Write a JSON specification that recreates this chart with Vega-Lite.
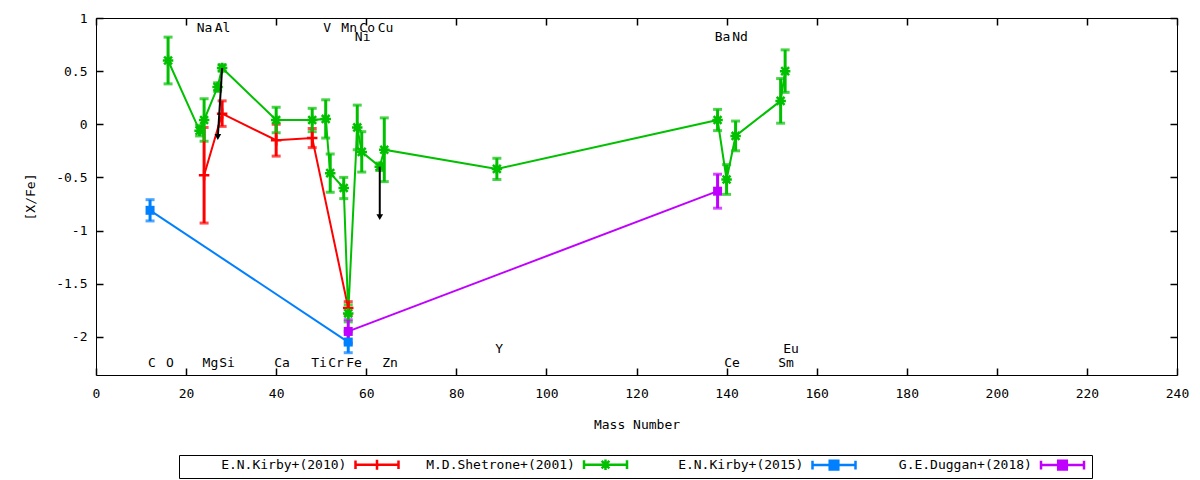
{
  "$schema": "https://vega.github.io/schema/vega-lite/v6.json",
  "width": 1081,
  "height": 357,
  "autosize": {"type": "none"},
  "padding": {"left": 96, "top": 18, "right": 23, "bottom": 105},
  "background": "white",
  "datasets": {
    "abund": [
      {"s": "E.N.Kirby+(2010)", "el": "Mg", "m": 24, "v": -0.48, "e": 0.45},
      {"s": "E.N.Kirby+(2010)", "el": "Si", "m": 28, "v": 0.10, "e": 0.12},
      {"s": "E.N.Kirby+(2010)", "el": "Ca", "m": 40, "v": -0.15, "e": 0.15},
      {"s": "E.N.Kirby+(2010)", "el": "Ti", "m": 48, "v": -0.13, "e": 0.09},
      {"s": "E.N.Kirby+(2010)", "el": "Fe", "m": 56, "v": -1.73, "e": 0.06},
      {"s": "M.D.Shetrone+(2001)", "el": "O", "m": 16, "v": 0.60, "e": 0.22},
      {"s": "M.D.Shetrone+(2001)", "el": "Na", "m": 23, "v": -0.06, "e": 0.05},
      {"s": "M.D.Shetrone+(2001)", "el": "Mg", "m": 24, "v": 0.04, "e": 0.20},
      {"s": "M.D.Shetrone+(2001)", "el": "Al", "m": 27, "v": 0.35, "e": 0.04},
      {"s": "M.D.Shetrone+(2001)", "el": "Si", "m": 28, "v": 0.53, "e": 0.03},
      {"s": "M.D.Shetrone+(2001)", "el": "Ca", "m": 40, "v": 0.04, "e": 0.12},
      {"s": "M.D.Shetrone+(2001)", "el": "Ti", "m": 48, "v": 0.04, "e": 0.11},
      {"s": "M.D.Shetrone+(2001)", "el": "V", "m": 51, "v": 0.05, "e": 0.18},
      {"s": "M.D.Shetrone+(2001)", "el": "Cr", "m": 52, "v": -0.46, "e": 0.18},
      {"s": "M.D.Shetrone+(2001)", "el": "Mn", "m": 55, "v": -0.60, "e": 0.10},
      {"s": "M.D.Shetrone+(2001)", "el": "Fe", "m": 56, "v": -1.78, "e": 0.08},
      {"s": "M.D.Shetrone+(2001)", "el": "Ni", "m": 58, "v": -0.03, "e": 0.21},
      {"s": "M.D.Shetrone+(2001)", "el": "Co", "m": 59, "v": -0.26, "e": 0.19},
      {"s": "M.D.Shetrone+(2001)", "el": "Cu", "m": 63, "v": -0.40, "e": 0.035},
      {"s": "M.D.Shetrone+(2001)", "el": "Zn", "m": 64, "v": -0.24, "e": 0.30},
      {"s": "M.D.Shetrone+(2001)", "el": "Y", "m": 89, "v": -0.42, "e": 0.10},
      {"s": "M.D.Shetrone+(2001)", "el": "Ba", "m": 138, "v": 0.04, "e": 0.10},
      {"s": "M.D.Shetrone+(2001)", "el": "Ce", "m": 140, "v": -0.52, "e": 0.14},
      {"s": "M.D.Shetrone+(2001)", "el": "Nd", "m": 142, "v": -0.11, "e": 0.14},
      {"s": "M.D.Shetrone+(2001)", "el": "Sm", "m": 152, "v": 0.22, "e": 0.21},
      {"s": "M.D.Shetrone+(2001)", "el": "Eu", "m": 153, "v": 0.50, "e": 0.20},
      {"s": "E.N.Kirby+(2015)", "el": "C", "m": 12, "v": -0.81, "e": 0.10},
      {"s": "E.N.Kirby+(2015)", "el": "Fe", "m": 56, "v": -2.05, "e": 0.10},
      {"s": "G.E.Duggan+(2018)", "el": "Fe", "m": 56, "v": -1.95, "e": 0.11},
      {"s": "G.E.Duggan+(2018)", "el": "Ba", "m": 138, "v": -0.63, "e": 0.16}
    ],
    "arrows": [
      {"m0": 28, "v0": 0.53, "m1": 27.05, "v1": -0.12},
      {"m0": 63, "v0": -0.40, "m1": 63, "v1": -0.875}
    ],
    "elements": [
      {"el": "Na", "m": 24.1, "yv": 0.91},
      {"el": "Al", "m": 28.1, "yv": 0.91},
      {"el": "V", "m": 51.3, "yv": 0.91},
      {"el": "Mn", "m": 56.2, "yv": 0.91},
      {"el": "Co", "m": 60.2, "yv": 0.91},
      {"el": "Cu", "m": 64.3, "yv": 0.91},
      {"el": "Ni", "m": 59.2, "yv": 0.82},
      {"el": "Ba", "m": 139.1, "yv": 0.82},
      {"el": "Nd", "m": 143.0, "yv": 0.82},
      {"el": "C", "m": 12.4, "yv": -2.245},
      {"el": "O", "m": 16.4, "yv": -2.245},
      {"el": "Mg", "m": 25.4, "yv": -2.245},
      {"el": "Si", "m": 29.1, "yv": -2.245},
      {"el": "Ca", "m": 41.3, "yv": -2.245},
      {"el": "Ti", "m": 49.5, "yv": -2.245},
      {"el": "Cr", "m": 53.3, "yv": -2.245},
      {"el": "Fe", "m": 57.3, "yv": -2.245},
      {"el": "Zn", "m": 65.3, "yv": -2.245},
      {"el": "Y", "m": 89.5, "yv": -2.115},
      {"el": "Ce", "m": 141.2, "yv": -2.245},
      {"el": "Sm", "m": 153.2, "yv": -2.245},
      {"el": "Eu", "m": 154.3, "yv": -2.115}
    ]
  },
  "layer": [
    {
      "data": {"name": "abund"},
      "mark": {"type": "line", "strokeWidth": 2},
      "encoding": {
        "x": {
          "field": "m", "type": "quantitative",
          "scale": {"domain": [0, 240], "nice": false},
          "axis": {
            "orient": "bottom", "title": "Mass Number",
            "values": [0, 20, 40, 60, 80, 100, 120, 140, 160, 180, 200, 220, 240],
            "labelExpr": "'' + datum.value", "labelFlush": false,
            "domain": false, "offset": -7, "tickSize": 7, "labelPadding": 12, "titlePadding": 18
          }
        },
        "y": {
          "field": "v", "type": "quantitative",
          "scale": {"domain": [-2.36, 1], "nice": false, "zero": false},
          "axis": {
            "orient": "left", "title": "[X/Fe]",
            "values": [-2, -1.5, -1, -0.5, 0, 0.5, 1],
            "labelExpr": "'' + datum.value", "labelFlush": false,
            "domain": false, "offset": -7, "tickSize": 7, "labelPadding": 9, "titlePadding": 18
          }
        },
        "color": {
          "field": "s", "type": "nominal",
          "scale": {
            "domain": ["E.N.Kirby+(2010)", "M.D.Shetrone+(2001)", "E.N.Kirby+(2015)", "G.E.Duggan+(2018)"],
            "range": ["#ff0000", "#00c000", "#0080ff", "#c000ff"]
          },
          "legend": {
            "orient": "none", "legendX": 83, "legendY": 437,
            "direction": "horizontal", "title": null,
            "labelFont": "DejaVu Sans Mono", "labelFontSize": 13, "labelColor": "black",
            "labelLimit": 0, "labelOffset": -201.5, "symbolOffset": 188.5,
            "symbolSize": 100, "symbolStrokeWidth": 2.5,
            "columnPadding": 6.5, "padding": 3,
            "strokeColor": "black", "fillColor": "white",
            "labelExpr": "'\u200b' + pad(datum.label, 21, '\u00a0', 'left')",
            "encode": {
              "symbols": {
                "update": {
                  "shape": {"signal": "datum.value === 'E.N.Kirby+(2010)' ? 'M-4.3,0H4.3M-4.3,-0.86V0.86M4.3,-0.86V0.86M0,-1V1' : datum.value === 'M.D.Shetrone+(2001)' ? 'M-4.3,0H4.3M-4.3,-0.86V0.86M4.3,-0.86V0.86M0,-1.05V1.05M-0.77,-0.77L0.77,0.77M-0.77,0.77L0.77,-0.77' : 'M-4.3,0H4.3M-4.3,-0.86V0.86M4.3,-0.86V0.86M-0.86,-0.86H0.86V0.86H-0.86Z'"},
                  "stroke": {"signal": "scale('color', datum.value)"},
                  "fill": {"signal": "scale('color', datum.value)"},
                  "strokeWidth": {"value": 2.5},
                  "opacity": {"value": 1}
                }
              }
            }
          }
        }
      }
    },
    {
      "data": {"name": "abund"},
      "mark": {"type": "errorbar", "ticks": {"size": 9, "thickness": 3}, "rule": {"strokeWidth": 3}},
      "encoding": {
        "x": {"field": "m", "type": "quantitative", "axis": null},
        "y": {"field": "v", "type": "quantitative", "axis": null},
        "yError": {"field": "e"},
        "color": {"field": "s", "type": "nominal"}
      }
    },
    {
      "data": {"name": "abund"},
      "transform": [{"filter": {"field": "s", "oneOf": ["E.N.Kirby+(2010)", "M.D.Shetrone+(2001)"]}}],
      "mark": {"type": "point", "filled": false, "strokeWidth": 2.5, "size": 110, "opacity": 1},
      "encoding": {
        "x": {"field": "m", "type": "quantitative", "axis": null},
        "y": {"field": "v", "type": "quantitative", "axis": null},
        "color": {"field": "s", "type": "nominal"},
        "shape": {
          "field": "s", "type": "nominal", "legend": null,
          "scale": {
            "domain": ["E.N.Kirby+(2010)", "M.D.Shetrone+(2001)"],
            "range": ["M-1,0H1M0,-1V1", "M-1,0H1M0,-1V1M-0.75,-0.75L0.75,0.75M-0.75,0.75L0.75,-0.75"]
          }
        }
      }
    },
    {
      "data": {"name": "abund"},
      "transform": [{"filter": {"field": "s", "oneOf": ["E.N.Kirby+(2015)", "G.E.Duggan+(2018)"]}}],
      "mark": {"type": "point", "shape": "square", "filled": true, "size": 81, "opacity": 1},
      "encoding": {
        "x": {"field": "m", "type": "quantitative", "axis": null},
        "y": {"field": "v", "type": "quantitative", "axis": null},
        "color": {"field": "s", "type": "nominal"}
      }
    },
    {
      "data": {"name": "arrows"},
      "mark": {"type": "rule", "color": "black", "strokeWidth": 2},
      "encoding": {
        "x": {"field": "m0", "type": "quantitative", "axis": null},
        "y": {"field": "v0", "type": "quantitative", "axis": null},
        "x2": {"field": "m1"},
        "y2": {"field": "v1"}
      }
    },
    {
      "data": {"name": "arrows"},
      "mark": {"type": "point", "shape": "triangle-down", "filled": true, "color": "black", "size": 45, "opacity": 1},
      "encoding": {
        "x": {"field": "m1", "type": "quantitative", "axis": null},
        "y": {"field": "v1", "type": "quantitative", "axis": null}
      }
    },
    {
      "data": {"name": "elements"},
      "mark": {"type": "text", "font": "DejaVu Sans Mono", "fontSize": 13, "color": "black", "align": "center", "baseline": "middle"},
      "encoding": {
        "x": {
          "field": "m", "type": "quantitative",
          "axis": {"orient": "top", "labels": false, "title": null, "domain": false, "offset": -7, "tickSize": 7,
                   "values": [0, 20, 40, 60, 80, 100, 120, 140, 160, 180, 200, 220, 240]}
        },
        "y": {
          "field": "yv", "type": "quantitative",
          "axis": {"orient": "right", "labels": false, "title": null, "domain": false, "offset": -7, "tickSize": 7,
                   "values": [-2, -1.5, -1, -0.5, 0, 0.5, 1]}
        },
        "text": {"field": "el"}
      }
    }
  ],
  "config": {
    "view": {"stroke": "black", "strokeWidth": 1},
    "axis": {
      "labelFont": "DejaVu Sans Mono", "labelFontSize": 13, "labelColor": "black",
      "titleFont": "DejaVu Sans Mono", "titleFontSize": 13, "titleFontWeight": "normal", "titleColor": "black",
      "domainColor": "black", "tickColor": "black", "tickWidth": 1.5, "grid": false
    }
  }
}
